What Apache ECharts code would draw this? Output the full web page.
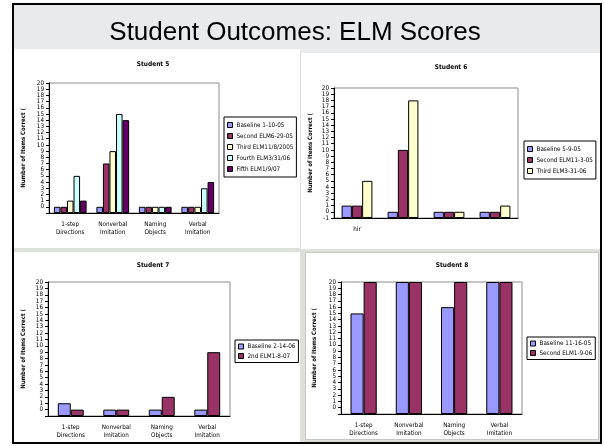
<!DOCTYPE html>
<html><head><meta charset="utf-8">
<script src="https://cdn.jsdelivr.net/npm/echarts@6/dist/echarts.min.js"></script>
<style>html,body{margin:0;padding:0;background:#fff}#c{width:604px;height:446px}</style>
</head><body><div id="c"></div>
<script>
// ---------- data ----------
const categories = ['1-step\nDirections', 'Nonverbal\nImitation', 'Naming\nObjects', 'Verbal\nImitation'];
const s6TickLabels = ['hir', '', '', ''];
const yMin = -1, yMax = 20;

const s5Names = ['Baseline 1-10-05', 'Second ELM6-29-05', 'Third ELM11/8/2005', 'Fourth ELM3/31/06', 'Fifth ELM1/9/07'];
const s5Baseline = [0, 0, 0, 0];
const s5Second   = [0, 7, 0, 0];
const s5Third    = [1, 9, 0, 0];
const s5Fourth   = [5, 15, 0, 3];
const s5Fifth    = [1, 14, 0, 4];

const s6Names = ['Baseline 5-9-05', 'Second ELM11-3-05', 'Third ELM3-31-06'];
const s6Baseline = [1, 0, 0, 0];
const s6Second   = [1, 10, 0, 0];
const s6Third    = [5, 18, 0, 1];

const s7Names = ['Baseline 2-14-06', '2nd ELM1-8-07'];
const s7Baseline = [1, 0, 0, 0];
const s7Second   = [0, 0, 2, 9];

const s8Names = ['Baseline 11-16-05', 'Second ELM1-9-06'];
const s8Baseline = [15, 20, 16, 20];
const s8Second   = [20, 20, 20, 20];

// ---------- styles ----------
const palette = ['#9999ff', '#993366', '#ffffcc', '#ccffff', '#660066'];
const narrow = "'Liberation Sans Narrow','Arial Narrow','DejaVu Sans Condensed','Liberation Sans',Arial,sans-serif";
const wide = "'Liberation Sans',Arial,sans-serif";
const fs = 6.3;

const grids = [
  {left: 49, top: 83, width: 170, height: 130},
  {left: 334, top: 88, width: 184, height: 130},
  {left: 48, top: 282, width: 182, height: 134},
  {left: 341, top: 282, width: 181, height: 132}
];
const students = [
  {names: s5Names, values: [s5Baseline, s5Second, s5Third, s5Fourth, s5Fifth], gap: '23%', nameGap: 23, showNeg: false, xlabels: null,
   legend: {left: 224, top: 117, padding: [4, 3, 4, 3], itemGap: 3}},
  {names: s6Names, values: [s6Baseline, s6Second, s6Third], gap: '33%', nameGap: 21, showNeg: true, xlabels: s6TickLabels,
   legend: {left: 524, top: 141, padding: [4, 3, 4, 3], itemGap: 3}},
  {names: s7Names, values: [s7Baseline, s7Second], gap: '43%', nameGap: 22, showNeg: false, xlabels: null,
   legend: {left: 235, top: 340, padding: [2.5, 3, 2.5, 3], itemGap: 1.5}},
  {names: s8Names, values: [s8Baseline, s8Second], gap: '42%', nameGap: 24, showNeg: false, xlabels: null,
   legend: {left: 527, top: 337, padding: [2.5, 3, 2.5, 3], itemGap: 1.5}}
];

const xAxes = [], yAxes = [], series = [], legends = [];
students.forEach((st, gi) => {
  xAxes.push({
    type: 'category', gridIndex: gi, data: categories,
    axisLine: {onZero: false, lineStyle: {color: '#000', width: 1}},
    axisTick: {length: 3, lineStyle: {color: '#000'}},
    axisLabel: {
      interval: 0, fontSize: fs, lineHeight: 8.5, margin: 7, color: '#000', fontFamily: narrow,
      formatter: st.xlabels ? ((v, idx) => st.xlabels[idx]) : (v => v)
    }
  });
  yAxes.push({
    type: 'value', gridIndex: gi, min: yMin, max: yMax, interval: 1,
    name: 'Number of Items Correct (', nameLocation: 'middle', nameGap: st.nameGap,
    nameTextStyle: {fontSize: 6, fontWeight: 'bold', color: '#000', fontFamily: narrow},
    axisLine: {show: true, onZero: false, lineStyle: {color: '#000', width: 1}},
    axisTick: {show: true, length: 3, lineStyle: {color: '#000'}},
    splitLine: {show: false},
    axisLabel: {
      fontSize: fs, margin: 5, color: '#000', fontFamily: narrow, showMinLabel: true, showMaxLabel: true,
      formatter: v => (v < 0 && !st.showNeg) ? '' : String(v)
    }
  });
  st.values.forEach((vals, i) => {
    const stack = 'g' + gi + 's' + i;
    series.push({
      type: 'bar', name: '_base_' + stack, xAxisIndex: gi, yAxisIndex: gi,
      stack: stack, stackStrategy: 'all', silent: true,
      data: vals.map(() => yMin),
      itemStyle: {color: 'rgba(0,0,0,0)', borderWidth: 0},
      barCategoryGap: st.gap, barGap: 0
    });
    series.push({
      type: 'bar', name: st.names[i], xAxisIndex: gi, yAxisIndex: gi,
      stack: stack, stackStrategy: 'all',
      data: vals.map(v => v - yMin),
      itemStyle: {color: palette[i], borderColor: '#000', borderWidth: 1},
      barCategoryGap: st.gap, barGap: 0
    });
  });
  legends.push(Object.assign({
    orient: 'vertical', data: st.names, icon: 'rect', itemWidth: 5, itemHeight: 5,
    itemStyle: {borderColor: '#000', borderWidth: 1},
    textStyle: {fontSize: fs, lineHeight: 8, color: '#000', fontFamily: narrow, padding: [0, 0, 0, -1]},
    borderColor: '#000', borderWidth: 1, backgroundColor: '#fff',
    selectedMode: false
  }, st.legend));
});

const titles = [
  {text: 'Student 5', x: 153, y: 64},
  {text: 'Student 6', x: 451, y: 67},
  {text: 'Student 7', x: 153, y: 265},
  {text: 'Student 8', x: 452, y: 265}
];

const graphics = [
  {type: 'rect', shape: {x: 13, y: 4, width: 588, height: 439}, style: {fill: '#dde1da', stroke: '#000', lineWidth: 2}, z: -100},
  {type: 'rect', shape: {x: 14, y: 5, width: 586, height: 48}, style: {fill: '#e8eaec'}, z: -99},
  {type: 'rect', shape: {x: 14, y: 49, width: 286, height: 199}, style: {fill: '#fff'}, z: -98},
  {type: 'rect', shape: {x: 301, y: 53, width: 299, height: 196}, style: {fill: '#fff'}, z: -98},
  {type: 'rect', shape: {x: 14, y: 252, width: 286, height: 190}, style: {fill: '#fff'}, z: -98},
  {type: 'rect', shape: {x: 305.5, y: 252.5, width: 293, height: 187}, style: {fill: '#fff', stroke: '#c4c8c2', lineWidth: 1}, z: -98},
  {type: 'text', x: 295, y: 33, style: {text: 'Student Outcomes: ELM Scores', fill: '#000', font: '26px ' + wide, textAlign: 'center', textVerticalAlign: 'middle'}, z: 10}
].concat(titles.map(t => ({
  type: 'text', x: t.x, y: t.y, z: 10,
  style: {text: t.text, fill: '#000', font: 'bold 6.5px ' + narrow, textAlign: 'center', textVerticalAlign: 'middle'}
})));

const chart = echarts.init(document.getElementById('c'), null, {renderer: 'canvas'});
chart.setOption({
  animation: false,
  backgroundColor: '#fff',
  grid: grids.map(g => Object.assign({show: true, borderColor: '#8c8c8c', borderWidth: 1, backgroundColor: 'rgba(0,0,0,0)', containLabel: false}, g)),
  xAxis: xAxes,
  yAxis: yAxes,
  legend: legends,
  graphic: graphics,
  series: series
});
</script></body></html>
